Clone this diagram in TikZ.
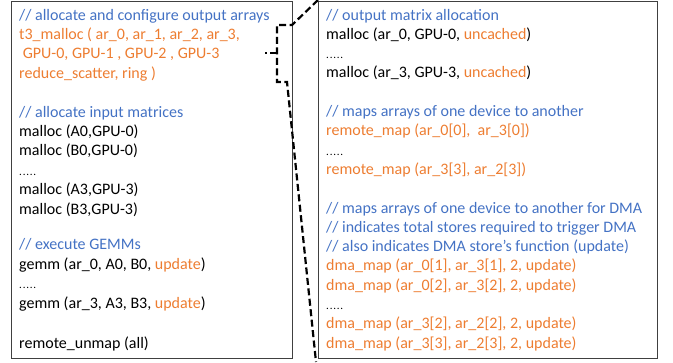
\documentclass[tikz,border=0pt]{standalone}
\usepackage{fontspec}
\setmainfont{Carlito}
\usepackage{xcolor}
\definecolor{cmtblue}{HTML}{4472C4}
\definecolor{argorange}{HTML}{ED7D31}
\definecolor{boxgray}{HTML}{404040}
\newcommand{\cm}[1]{\textcolor{cmtblue}{#1}}
\newcommand{\og}[1]{\textcolor{argorange}{#1}}
\newcommand{\elide}{{\fontsize{11bp}{13bp}\selectfont.\kern0.8bp.\kern0.8bp.\kern0.8bp.\kern0.8bp.}}
\begin{document}
\begin{tikzpicture}[x=1bp,y=-1bp,
  codebox/.style={draw=boxgray,line width=0.8bp},
  codeline/.style={anchor=base west,inner sep=0pt,font=\fontsize{16bp}{19bp}\selectfont},
  callout/.style={draw=black,line width=2.2bp,dash pattern=on 7bp off 3.5bp}]
\useasboundingbox (0,0) rectangle (673,362);
% the two code panels
\draw[codebox] (11,1) rectangle (292,358);
\draw[codebox] (318,1) rectangle (657,358);
% host-side program
\node[codeline] (l1)  at (19,20)  {\cm{// allocate and configure output arrays}};
\node[codeline] (l2)  at (19,39.4)  {\og{t3\_malloc ( ar\_0, ar\_1, ar\_2, ar\_3,}};
\node[codeline] (l3)  at (19,58.8)  {\og{\ GPU-0, GPU-1 , GPU-2 , GPU-3}};
\node[codeline] (l4)  at (19,78.2)  {\og{reduce\_scatter, ring )}};
\node[codeline] (l5)  at (19,117.0) {\cm{// allocate input matrices}};
\node[codeline] (l6)  at (19,136.4) {malloc (A0,GPU-0)};
\node[codeline] (l7)  at (19,155.8) {malloc (B0,GPU-0)};
\node[codeline] (l8)  at (19,175.2) {\elide};
\node[codeline] (l9)  at (19,194.6) {malloc (A3,GPU-3)};
\node[codeline] (l10) at (19,214.0) {malloc (B3,GPU-3)};
\node[codeline] (l11) at (19,249.8) {\cm{// execute GEMMs}};
\node[codeline] (l12) at (19,269.2) {gemm (ar\_0, A0, B0, \og{update})};
\node[codeline] (l13) at (19,288.6) {\elide};
\node[codeline] (l14) at (19,308.0) {gemm (ar\_3, A3, B3, \og{update})};
\node[codeline] (l15) at (19,348.8) {remote\_unmap (all)};
% expansion of t3_malloc
\node[codeline] (r1)  at (326,20)  {\cm{// output matrix allocation}};
\node[codeline] (r2)  at (326,39.3)  {malloc (ar\_0, GPU-0, \og{uncached})};
\node[codeline] (r3)  at (326,58.6)  {\elide};
\node[codeline] (r4)  at (326,77.9)  {malloc (ar\_3, GPU-3, \og{uncached})};
\node[codeline] (r5)  at (326,116.5) {\cm{// maps arrays of one device to another}};
\node[codeline] (r6)  at (326,135.8) {\og{remote\_map (ar\_0[0],\ \ ar\_3[0])}};
\node[codeline] (r7)  at (326,155.1) {\elide};
\node[codeline] (r8)  at (326,174.4) {\og{remote\_map (ar\_3[3], ar\_2[3])}};
\node[codeline] (r9)  at (326,213.0) {\cm{// maps arrays of one device to another for DMA}};
\node[codeline] (r10) at (326,232.3) {\cm{// indicates total stores required to trigger DMA}};
\node[codeline] (r11) at (326,251.6) {\cm{// also indicates DMA store’s function (update)}};
\node[codeline] (r12) at (326,270.9) {\og{dma\_map (ar\_0[1], ar\_3[1], 2, update)}};
\node[codeline] (r13) at (326,290.2) {\og{dma\_map (ar\_0[2], ar\_3[2], 2, update)}};
\node[codeline] (r14) at (326,309.5) {\elide};
\node[codeline] (r15) at (326,328.8) {\og{dma\_map (ar\_3[2], ar\_2[2], 2, update)}};
\node[codeline] (r16) at (326,348.1) {\og{dma\_map (ar\_3[3], ar\_2[3], 2, update)}};
% dashed bracket linking t3_malloc to its expansion
\coordinate (topend) at (318,0);
\coordinate (b1) at (292,25);
\coordinate (b2) at (277,25);
\coordinate (b3) at (277,82);
\coordinate (b4) at (287,82);
\coordinate (botend) at (316,362);
\coordinate (tipin) at (277,53);
\coordinate (tip) at (265,53);
\draw[callout] (topend) -- (b1) -- (b2) -- (b3) -- (b4) -- (botend);
\draw[callout] (tipin) -- (tip);
\end{tikzpicture}
\end{document}
